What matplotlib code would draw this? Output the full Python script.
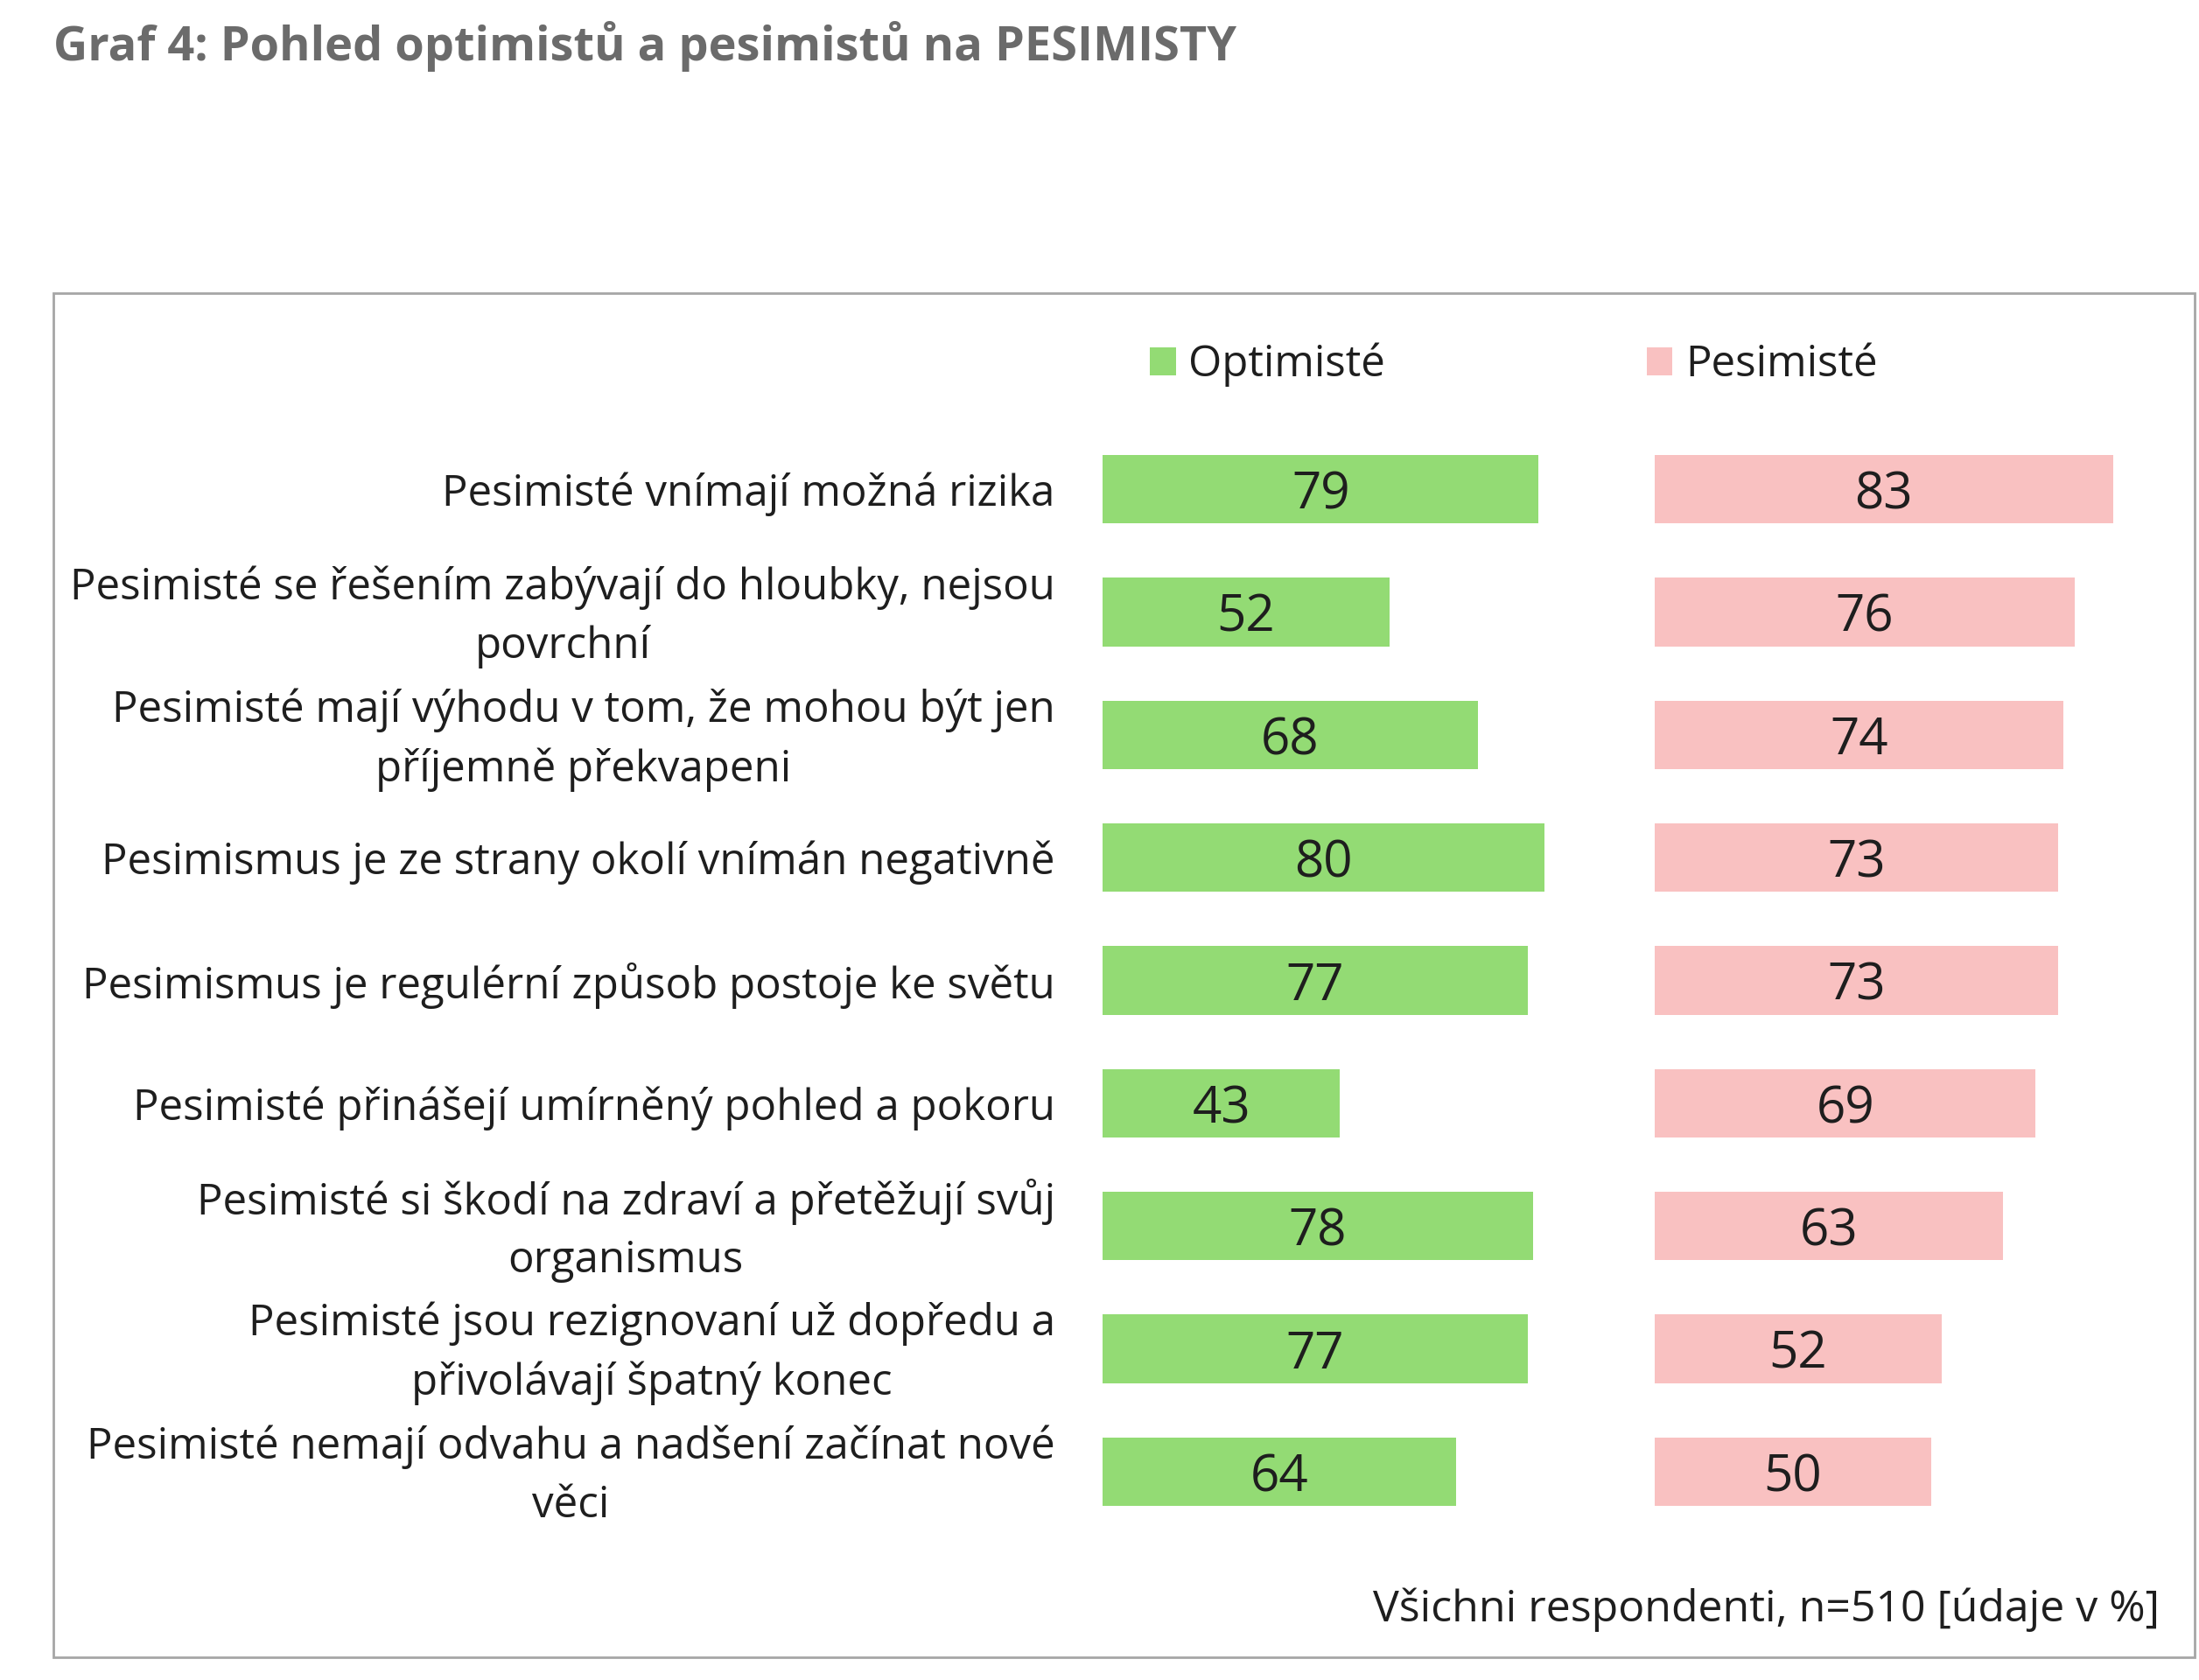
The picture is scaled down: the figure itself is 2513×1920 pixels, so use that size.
"""
Graf 4: Pohled optimistů a pesimistů na PESIMISTY
"""
import matplotlib
matplotlib.use('Agg')
import matplotlib.pyplot as plt
from matplotlib.patches import Rectangle, Patch
from matplotlib.transforms import ScaledTranslation

plt.rcParams['font.family'] = ['Open Sans', 'DejaVu Sans']

# data
categories = [
    "Pesimisté vnímají možná rizika",
    "Pesimisté se řešením zabývají do hloubky, nejsou\npovrchní",
    "Pesimisté mají výhodu v tom, že mohou být jen\npříjemně překvapeni",
    "Pesimismus je ze strany okolí vnímán negativně",
    "Pesimismus je regulérní způsob postoje ke světu",
    "Pesimisté přinášejí umírněný pohled a pokoru",
    "Pesimisté si škodí na zdraví a přetěžují svůj\norganismus",
    "Pesimisté jsou rezignovaní už dopředu a\npřivolávají špatný konec",
    "Pesimisté nemají odvahu a nadšení začínat nové\nvěci",
]
optimiste = [79, 52, 68, 80, 77, 43, 78, 77, 64]
pesimiste = [83, 76, 74, 73, 73, 69, 63, 52, 50]
series_names = ["Optimisté", "Pesimisté"]

GREEN = '#93DB74'
PINK = '#F9C1C1'
TEXT = '#1e1e1e'

W, H = 2513, 1920
fig = plt.figure(figsize=(W / 100, H / 100), dpi=100)

# rámeček kolem grafu
fig.patches.append(Rectangle((61 / W, 1 - 1894 / H), (2508 - 61) / W, (1894 - 335) / H,
                             transform=fig.transFigure, fill=False,
                             edgecolor='#a6a6a6', linewidth=2))

fig.text(61 / W, 1 - 53 / H, "Graf 4: Pohled optimistů a pesimistů na PESIMISTY",
         fontsize=39, fontweight='bold', color='#6b6b6b', ha='left', va='center')

# osy - stejné měřítko pro oba panely
px_per_unit = (1891 - 1260) / 100
ax_bottom = 1 - 1752 / H
ax_height = (1752 - 489) / H
ax1 = fig.add_axes([1260 / W, ax_bottom, (1891 - 1260) / W, ax_height])
ax2 = fig.add_axes([1891 / W, ax_bottom, (2452 - 1891) / W, ax_height])

y = list(range(len(categories)))
bars1 = ax1.barh(y, optimiste, height=0.56, color=GREEN)
bars2 = ax2.barh(y, pesimiste, height=0.56, color=PINK)
ax1.set_xlim(0, 100)
ax2.set_xlim(0, (2452 - 1891) / px_per_unit)

for ax, bars in ((ax1, bars1), (ax2, bars2)):
    ax.set_ylim(len(categories) - 0.5, -0.5)
    labels = ax.bar_label(bars, label_type='center', fontsize=42, color=TEXT)
    for t in labels:
        t.xyann = (0, -5)
    ax.set_xticks([])
    for sp in ax.spines.values():
        sp.set_visible(False)
    ax.set_facecolor('none')

ax1.set_yticks(y)
ax1.set_yticklabels(categories, fontsize=35.5, color=TEXT, multialignment='center',
                    linespacing=1.45)
ax1.tick_params(axis='y', length=0, pad=39)
ax2.set_yticks([])

# dvouřádkové popisky trochu výš
shift = ScaledTranslation(0, 0.09, fig.dpi_scale_trans)
for lbl in ax1.get_yticklabels():
    if '\n' in lbl.get_text():
        lbl.set_transform(lbl.get_transform() + shift)

handles = [Patch(facecolor=GREEN), Patch(facecolor=PINK)]
fig.legend(handles, series_names, loc='center left',
           bbox_to_anchor=(1314 / W, 1 - 417 / H), ncol=2, frameon=False,
           fontsize=35.5, handlelength=0.6, handleheight=0.6, handletextpad=0.3,
           columnspacing=6.05, borderpad=0, borderaxespad=0, labelcolor=TEXT)

fig.text(2468 / W, 1 - 1840 / H, "Všichni respondenti, n=510 [údaje v %]",
         fontsize=36, color=TEXT, ha='right', va='center')

fig.savefig('out.png', dpi=100, facecolor='white')
